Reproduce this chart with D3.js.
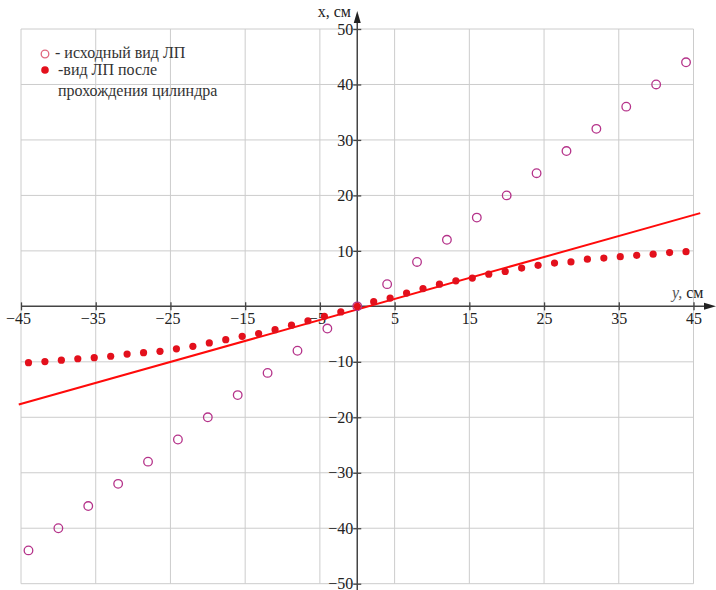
<!DOCTYPE html>
<html>
<head>
<meta charset="utf-8">
<script src="https://cdn.jsdelivr.net/npm/d3@7"></script>
<style>
  body { margin: 0; background: #fff; }
  svg text { font-family: "Liberation Serif", "DejaVu Serif", "Times New Roman", serif; }
</style>
</head>
<body>
<div id="chart"></div>
<script>
// initial shape of the line (open circles)
var openY = [-44, -40, -36, -32, -28, -24, -20, -16, -12, -8, -4, 0, 4, 8, 12, 16, 20, 24, 28, 32, 36, 40, 44]
var openX = [-44, -40, -36, -32, -28, -24, -20, -16, -12, -8, -4, 0, 4, 8, 12, 16, 20, 24, 28, 32, 36, 40, 44]

// shape after passing the cylinder (filled dots)
var dotY = [-44, -41.8, -39.6, -37.4, -35.2, -33, -30.8, -28.6, -26.4, -24.2, -22, -19.8, -17.6, -15.4, -13.2, -11, -8.8, -6.6, -4.4, -2.2,
  0, 2.2, 4.4, 6.6, 8.8, 11, 13.2, 15.4, 17.6, 19.8, 22, 24.2, 26.4, 28.6, 30.8, 33, 35.2, 37.4, 39.6, 41.8, 44]
var dotX = [-10.15, -9.95, -9.7, -9.45, -9.25, -9.0, -8.6, -8.35, -8.1, -7.65, -7.2, -6.6, -6.0, -5.4, -4.9, -4.2, -3.4, -2.6, -1.8, -1.0,
  0, 0.85, 1.5, 2.4, 3.2, 4.0, 4.6, 5.1, 5.8, 6.3, 6.9, 7.4, 7.8, 8.0, 8.5, 8.7, 8.95, 9.2, 9.4, 9.7, 9.85]

// straight red line
var lineY = [-45.3, 45.9]
var lineX = [-17.7, 16.8]

var yTicks = [-45, -35, -25, -15, -5, 5, 15, 25, 35, 45]
var xTicks = [-50, -40, -30, -20, -10, 10, 20, 30, 40, 50]

var legendLines = ["- исходный вид ЛП", "-вид ЛП после", "прохождения цилиндра"]

var width = 716
var height = 590

var svg = d3.select("#chart").append("svg")
  .attr("width", width)
  .attr("height", height)

// horizontal coordinate is y (cm), vertical is x (cm)
var sx = d3.scaleLinear().domain([-45, 45]).range([21, 693.5])
var sy = d3.scaleLinear().domain([-50, 50]).range([583.7, 29])

// grid
var grid = svg.append("g").attr("stroke", "#cccccc").attr("stroke-width", 1)
grid.selectAll("line.v")
  .data(yTicks)
  .enter().append("line")
    .attr("x1", function(d) { return sx(d) })
    .attr("x2", function(d) { return sx(d) })
    .attr("y1", sy(50))
    .attr("y2", sy(-50))
grid.selectAll("line.h")
  .data(xTicks)
  .enter().append("line")
    .attr("x1", sx(-45))
    .attr("x2", sx(45))
    .attr("y1", function(d) { return sy(d) })
    .attr("y2", function(d) { return sy(d) })

// horizontal axis
var xAxis = svg.append("g")
  .attr("transform", "translate(0," + sy(0) + ")")
  .call(d3.axisBottom(sx).tickValues(yTicks).tickSize(4).tickPadding(2))
xAxis.select(".domain").remove()
xAxis.selectAll(".tick line").attr("y1", -4).attr("stroke", "#444").attr("stroke-width", 1.3)
xAxis.selectAll(".tick text")
  .attr("font-size", 16)
  .attr("fill", "#222")
  .attr("dx", function(d) { return d < 0 ? -3 : 0 })

svg.append("line")
  .attr("x1", sx(-45)).attr("x2", 706)
  .attr("y1", sy(0)).attr("y2", sy(0))
  .attr("stroke", "#444").attr("stroke-width", 1.5)
svg.append("path")
  .attr("d", "M716," + sy(0) + " L704," + (sy(0) - 3.5) + " L704," + (sy(0) + 3.5) + "Z")
  .attr("fill", "#222")

// vertical axis
var yAxis = svg.append("g")
  .attr("transform", "translate(" + sx(0) + ",0)")
  .call(d3.axisLeft(sy).tickValues(xTicks).tickSize(4).tickPadding(0))
yAxis.select(".domain").remove()
yAxis.selectAll(".tick line").attr("x1", 4).attr("stroke", "#444").attr("stroke-width", 1.3)
yAxis.selectAll(".tick text")
  .attr("font-size", 16)
  .attr("fill", "#222")

svg.append("line")
  .attr("x1", sx(0)).attr("x2", sx(0))
  .attr("y1", 590).attr("y2", 20)
  .attr("stroke", "#444").attr("stroke-width", 1.5)
svg.append("path")
  .attr("d", "M" + sx(0) + ",11 L" + (sx(0) - 3.5) + ",23 L" + (sx(0) + 3.5) + ",23Z")
  .attr("fill", "#222")

// axis names
svg.append("text")
  .attr("x", 351).attr("y", 17)
  .attr("text-anchor", "end")
  .attr("font-size", 16)
  .attr("fill", "#222")
  .text("x, см")

var yName = svg.append("text")
  .attr("x", 672).attr("y", 298)
  .attr("font-size", 16)
  .attr("fill", "#222")
yName.append("tspan").attr("font-style", "italic").attr("fill", "#555").text("y,")
yName.append("tspan").text(" см")

// red line
svg.append("line")
  .attr("x1", sx(lineY[0])).attr("y1", sy(lineX[0]))
  .attr("x2", sx(lineY[1])).attr("y2", sy(lineX[1]))
  .attr("stroke", "#ff0a0a")
  .attr("stroke-width", 2)

// open circles
svg.append("g").selectAll("circle")
  .data(openY.map(function(d, i) { return [d, openX[i]] }))
  .enter().append("circle")
    .attr("cx", function(d) { return sx(d[0]) })
    .attr("cy", function(d) { return sy(d[1]) })
    .attr("r", 4.3)
    .attr("fill", "none")
    .attr("stroke", "#b5338a")
    .attr("stroke-width", 1.3)

// filled dots
svg.append("g").selectAll("circle")
  .data(dotY.map(function(d, i) { return [d, dotX[i]] }))
  .enter().append("circle")
    .attr("cx", function(d) { return sx(d[0]) })
    .attr("cy", function(d) { return sy(d[1]) })
    .attr("r", 3.6)
    .attr("fill", "#e3101c")

// legend
var legend = svg.append("g")
legend.append("circle")
  .attr("cx", 45).attr("cy", 54).attr("r", 3.8)
  .attr("fill", "none").attr("stroke", "#e0687e").attr("stroke-width", 1.3)
legend.append("circle")
  .attr("cx", 45).attr("cy", 70).attr("r", 3.8)
  .attr("fill", "#e3101c")
legend.selectAll("text")
  .data(legendLines)
  .enter().append("text")
    .attr("x", function(d, i) { return i == 0 ? 55 : 58 })
    .attr("y", function(d, i) { return [58, 75, 96][i] })
    .attr("font-size", 16)
    .attr("fill", "#333")
    .text(function(d) { return d })
</script>
</body>
</html>
